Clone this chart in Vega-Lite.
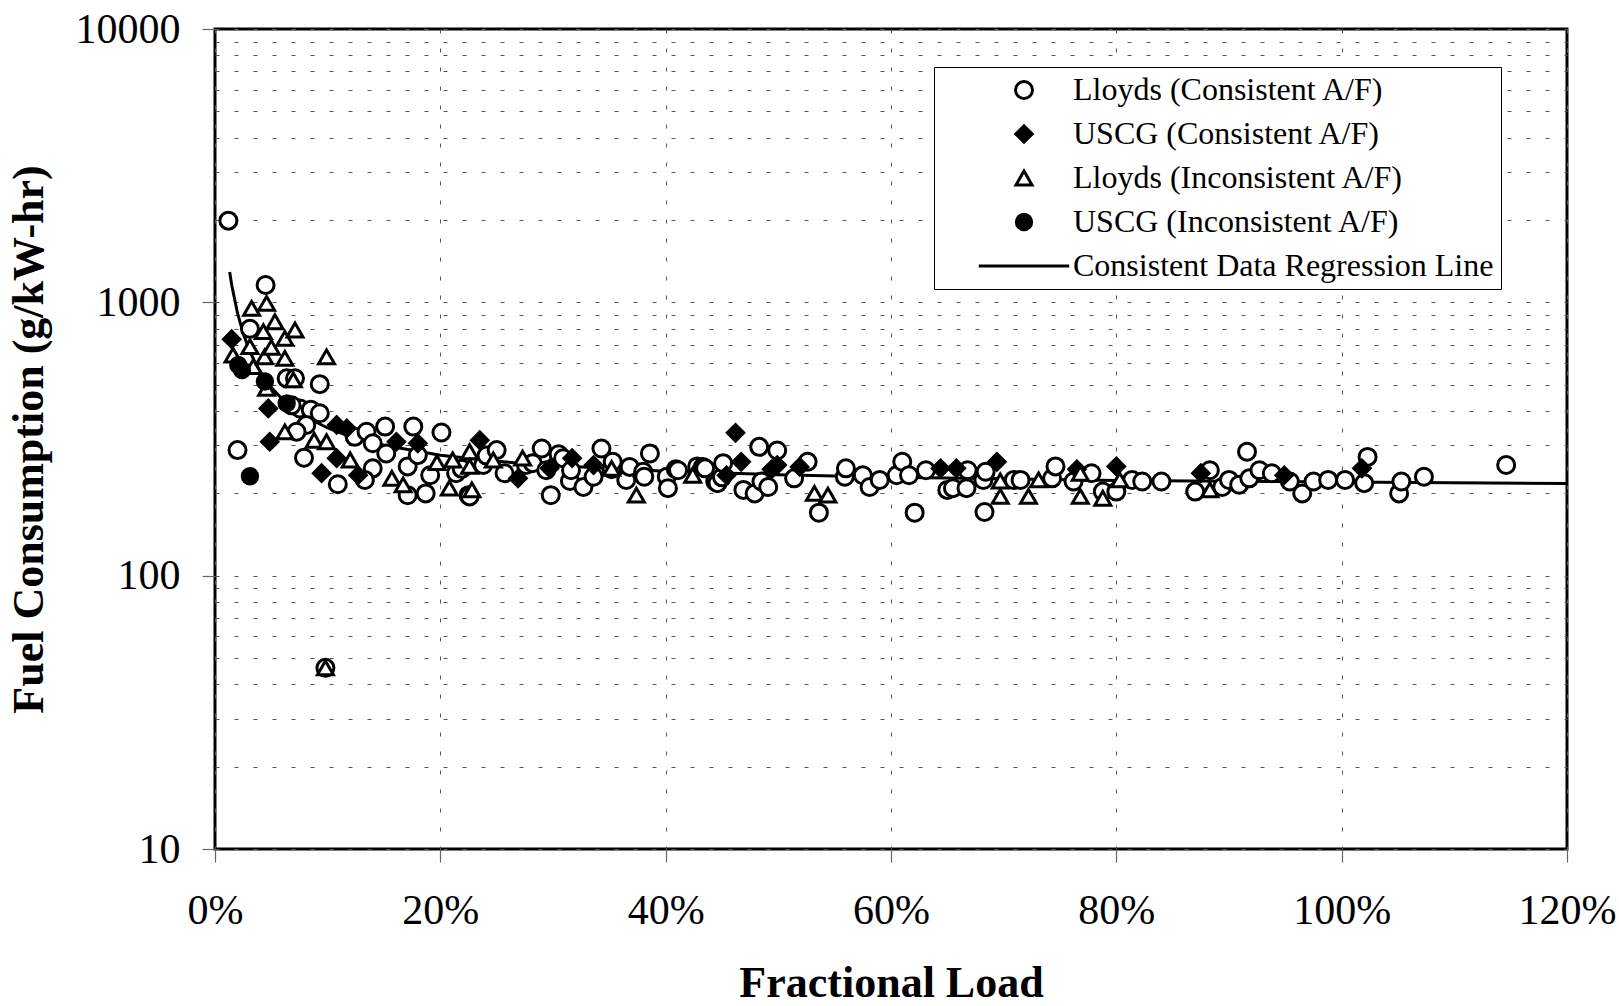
{
  "$schema": "https://vega.github.io/schema/vega-lite/v6.json",
  "width": 1352,
  "height": 820,
  "autosize": {"type": "none"},
  "padding": {"left": 215, "top": 29, "right": 52, "bottom": 157},
  "background": "white",
  "config": {
    "view": {"stroke": "black", "strokeWidth": 3},
    "font": "Liberation Serif",
    "axis": {
      "domain": false,
      "labelFont": "Liberation Serif",
      "labelFontSize": 42,
      "labelColor": "black",
      "titleFont": "Liberation Serif",
      "titleFontSize": 44,
      "titleFontWeight": "bold",
      "titleColor": "black",
      "tickColor": "#666666",
      "tickWidth": 1.2,
      "tickSize": 13,
      "gridColor": "#555555",
      "gridWidth": 1,
      "gridDash": [4, 15],
      "labelFlush": false,
      "labelOverlap": false,
      "labelBound": false
    }
  },
  "layer": [
    {
      "data": {
        "values": [
          {"x": 0.013, "y": 1292}, {"x": 0.015, "y": 1147}, {"x": 0.02, "y": 912},
          {"x": 0.025, "y": 770}, {"x": 0.03, "y": 676}, {"x": 0.035, "y": 609},
          {"x": 0.04, "y": 559}, {"x": 0.05, "y": 488}, {"x": 0.06, "y": 441},
          {"x": 0.07, "y": 407}, {"x": 0.08, "y": 382}, {"x": 0.1, "y": 347},
          {"x": 0.12, "y": 323}, {"x": 0.15, "y": 300}, {"x": 0.2, "y": 276},
          {"x": 0.25, "y": 262}, {"x": 0.3, "y": 253}, {"x": 0.4, "y": 241},
          {"x": 0.5, "y": 234}, {"x": 0.6, "y": 229}, {"x": 0.8, "y": 223},
          {"x": 1.0, "y": 220}, {"x": 1.2, "y": 217.5}
        ]
      },
      "mark": {"type": "line", "color": "black", "strokeWidth": 3},
      "encoding": {
        "x": {"field": "x", "type": "quantitative"},
        "y": {"field": "y", "type": "quantitative"}
      }
    },
    {
      "data": {
        "values": [
          {"x":0.0119,"y":1990,"s":"A"},{"x":0.020,"y":288,"s":"A"},{"x":0.031,"y":800,"s":"A"},{"x":0.0449,"y":1157,"s":"A"},
          {"x":0.0636,"y":527,"s":"A"},{"x":0.071,"y":527,"s":"A"},{"x":0.093,"y":502,"s":"A"},{"x":0.0754,"y":409,"s":"A"},
          {"x":0.068,"y":420,"s":"A"},{"x":0.085,"y":405,"s":"A"},{"x":0.093,"y":393,"s":"A"},{"x":0.081,"y":356,"s":"A"},
          {"x":0.0724,"y":336,"s":"A"},{"x":0.079,"y":270,"s":"A"},{"x":0.098,"y":46,"s":"A"},{"x":0.109,"y":216,"s":"A"},
          {"x":0.124,"y":322,"s":"A"},{"x":0.1345,"y":336,"s":"A"},{"x":0.140,"y":305,"s":"A"},{"x":0.152,"y":280,"s":"A"},
          {"x":0.151,"y":351,"s":"A"},{"x":0.176,"y":351,"s":"A"},{"x":0.201,"y":334,"s":"A"},{"x":0.140,"y":247,"s":"A"},
          {"x":0.133,"y":224,"s":"A"},{"x":0.171,"y":197,"s":"A"},{"x":0.187,"y":200,"s":"A"},{"x":0.171,"y":251,"s":"A"},
          {"x":0.180,"y":276,"s":"A"},{"x":0.191,"y":233,"s":"A"},{"x":0.225,"y":197,"s":"A"},{"x":0.214,"y":237,"s":"A"},
          {"x":0.219,"y":246,"s":"A"},{"x":0.226,"y":195,"s":"A"},{"x":0.238,"y":254,"s":"A"},{"x":0.241,"y":275,"s":"A"},
          {"x":0.250,"y":288,"s":"A"},{"x":0.257,"y":237,"s":"A"},{"x":0.276,"y":254,"s":"A"},{"x":0.282,"y":258,"s":"A"},
          {"x":0.290,"y":292,"s":"A"},{"x":0.294,"y":243,"s":"A"},{"x":0.298,"y":197,"s":"A"},{"x":0.305,"y":278,"s":"A"},
          {"x":0.309,"y":269,"s":"A"},{"x":0.315,"y":222,"s":"A"},{"x":0.316,"y":243,"s":"A"},{"x":0.327,"y":211,"s":"A"},
          {"x":0.336,"y":230,"s":"A"},{"x":0.343,"y":292,"s":"A"},{"x":0.352,"y":245,"s":"A"},{"x":0.353,"y":261,"s":"A"},
          {"x":0.365,"y":224,"s":"A"},{"x":0.368,"y":250,"s":"A"},{"x":0.380,"y":240,"s":"A"},{"x":0.381,"y":230,"s":"A"},
          {"x":0.386,"y":280,"s":"A"},{"x":0.401,"y":230,"s":"A"},{"x":0.402,"y":209,"s":"A"},{"x":0.409,"y":245,"s":"A"},
          {"x":0.411,"y":243,"s":"A"},{"x":0.428,"y":251,"s":"A"},{"x":0.433,"y":250,"s":"A"},{"x":0.435,"y":247,"s":"A"},
          {"x":0.444,"y":221,"s":"A"},{"x":0.446,"y":218,"s":"A"},{"x":0.450,"y":229,"s":"A"},{"x":0.451,"y":258,"s":"A"},
          {"x":0.469,"y":206,"s":"A"},{"x":0.479,"y":200,"s":"A"},{"x":0.483,"y":296,"s":"A"},{"x":0.485,"y":221,"s":"A"},
          {"x":0.491,"y":211,"s":"A"},{"x":0.499,"y":287,"s":"A"},{"x":0.514,"y":227,"s":"A"},{"x":0.526,"y":261,"s":"A"},
          {"x":0.536,"y":170,"s":"A"},{"x":0.559,"y":230,"s":"A"},{"x":0.560,"y":247,"s":"A"},{"x":0.575,"y":233,"s":"A"},
          {"x":0.581,"y":211,"s":"A"},{"x":0.590,"y":224,"s":"A"},{"x":0.605,"y":233,"s":"A"},{"x":0.610,"y":261,"s":"A"},
          {"x":0.616,"y":233,"s":"A"},{"x":0.621,"y":170,"s":"A"},{"x":0.631,"y":243,"s":"A"},{"x":0.650,"y":206,"s":"A"},
          {"x":0.655,"y":209,"s":"A"},{"x":0.667,"y":209,"s":"A"},{"x":0.668,"y":243,"s":"A"},{"x":0.682,"y":224,"s":"A"},
          {"x":0.683,"y":171,"s":"A"},{"x":0.684,"y":240,"s":"A"},{"x":0.709,"y":224,"s":"A"},{"x":0.715,"y":224,"s":"A"},
          {"x":0.743,"y":227,"s":"A"},{"x":0.746,"y":251,"s":"A"},{"x":0.762,"y":221,"s":"A"},{"x":0.778,"y":237,"s":"A"},
          {"x":0.788,"y":203,"s":"A"},{"x":0.800,"y":203,"s":"A"},{"x":0.814,"y":224,"s":"A"},{"x":0.823,"y":221,"s":"A"},
          {"x":0.840,"y":221,"s":"A"},{"x":0.870,"y":203,"s":"A"},{"x":0.883,"y":243,"s":"A"},{"x":0.894,"y":211,"s":"A"},
          {"x":0.900,"y":224,"s":"A"},{"x":0.909,"y":215,"s":"A"},{"x":0.916,"y":284,"s":"A"},{"x":0.918,"y":227,"s":"A"},
          {"x":0.927,"y":243,"s":"A"},{"x":0.938,"y":237,"s":"A"},{"x":0.954,"y":221,"s":"A"},{"x":0.965,"y":200,"s":"A"},
          {"x":0.975,"y":221,"s":"A"},{"x":0.988,"y":224,"s":"A"},{"x":1.003,"y":224,"s":"A"},{"x":1.020,"y":218,"s":"A"},
          {"x":1.023,"y":272,"s":"A"},{"x":1.051,"y":200,"s":"A"},{"x":1.053,"y":221,"s":"A"},{"x":1.073,"y":230,"s":"A"},
          {"x":1.146,"y":254,"s":"A"},
          {"x":0.0148,"y":733,"s":"B"},{"x":0.0473,"y":409,"s":"B"},{"x":0.0486,"y":309,"s":"B"},{"x":0.0946,"y":237,"s":"B"},
          {"x":0.108,"y":356,"s":"B"},{"x":0.117,"y":346,"s":"B"},{"x":0.108,"y":269,"s":"B"},{"x":0.127,"y":233,"s":"B"},
          {"x":0.161,"y":309,"s":"B"},{"x":0.180,"y":305,"s":"B"},{"x":0.235,"y":313,"s":"B"},{"x":0.269,"y":227,"s":"B"},
          {"x":0.297,"y":247,"s":"B"},{"x":0.317,"y":269,"s":"B"},{"x":0.336,"y":254,"s":"B"},{"x":0.454,"y":233,"s":"B"},
          {"x":0.462,"y":333,"s":"B"},{"x":0.467,"y":261,"s":"B"},{"x":0.494,"y":245,"s":"B"},{"x":0.499,"y":254,"s":"B"},
          {"x":0.519,"y":250,"s":"B"},{"x":0.644,"y":247,"s":"B"},{"x":0.658,"y":247,"s":"B"},{"x":0.694,"y":261,"s":"B"},
          {"x":0.765,"y":245,"s":"B"},{"x":0.800,"y":251,"s":"B"},{"x":0.875,"y":237,"s":"B"},{"x":0.949,"y":233,"s":"B"},
          {"x":1.018,"y":247,"s":"B"},
          {"x":0.016,"y":641,"s":"C"},{"x":0.031,"y":689,"s":"C"},{"x":0.0325,"y":950,"s":"C"},{"x":0.034,"y":582,"s":"C"},
          {"x":0.0429,"y":781,"s":"C"},{"x":0.044,"y":632,"s":"C"},{"x":0.0458,"y":991,"s":"C"},{"x":0.0458,"y":485,"s":"C"},
          {"x":0.050,"y":684,"s":"C"},{"x":0.0532,"y":849,"s":"C"},{"x":0.062,"y":738,"s":"C"},{"x":0.062,"y":624,"s":"C"},
          {"x":0.062,"y":336,"s":"C"},{"x":0.0695,"y":520,"s":"C"},{"x":0.071,"y":792,"s":"C"},{"x":0.088,"y":313,"s":"C"},
          {"x":0.098,"y":46,"s":"C"},{"x":0.099,"y":632,"s":"C"},{"x":0.099,"y":309,"s":"C"},{"x":0.120,"y":265,"s":"C"},
          {"x":0.157,"y":227,"s":"C"},{"x":0.167,"y":215,"s":"C"},{"x":0.197,"y":259,"s":"C"},{"x":0.208,"y":209,"s":"C"},
          {"x":0.211,"y":265,"s":"C"},{"x":0.226,"y":284,"s":"C"},{"x":0.226,"y":251,"s":"C"},{"x":0.228,"y":206,"s":"C"},
          {"x":0.247,"y":265,"s":"C"},{"x":0.273,"y":269,"s":"C"},{"x":0.352,"y":247,"s":"C"},{"x":0.374,"y":197,"s":"C"},
          {"x":0.424,"y":233,"s":"C"},{"x":0.532,"y":200,"s":"C"},{"x":0.544,"y":197,"s":"C"},{"x":0.697,"y":222,"s":"C"},
          {"x":0.697,"y":195,"s":"C"},{"x":0.722,"y":195,"s":"C"},{"x":0.731,"y":224,"s":"C"},{"x":0.768,"y":237,"s":"C"},
          {"x":0.768,"y":195,"s":"C"},{"x":0.788,"y":192,"s":"C"},{"x":0.803,"y":224,"s":"C"},{"x":0.883,"y":206,"s":"C"},
          {"x":0.0207,"y":590,"s":"D"},{"x":0.024,"y":565,"s":"D"},{"x":0.031,"y":231,"s":"D"},{"x":0.0443,"y":513,"s":"D"},
          {"x":0.0636,"y":427,"s":"D"}
        ]
      },
      "mark": {"type": "point", "stroke": "black", "strokeWidth": 3, "opacity": 1},
      "encoding": {
        "x": {
          "field": "x", "type": "quantitative",
          "scale": {"domain": [0, 1.2], "nice": false, "zero": false},
          "axis": {
            "values": [0, 0.2, 0.4, 0.6, 0.8, 1.0, 1.2],
            "format": ".0%",
            "title": "Fractional Load",
            "labelPadding": 28,
            "titlePadding": 30,
            "grid": true,
            "gridDash": [4, 15]
          }
        },
        "y": {
          "field": "y", "type": "quantitative",
          "scale": {"type": "log", "domain": [10, 10000], "nice": false},
          "axis": {
            "values": [10,20,30,40,50,60,70,80,90,100,200,300,400,500,600,700,800,900,1000,2000,3000,4000,5000,6000,7000,8000,9000,10000],
            "labelExpr": "indexof([10,100,1000,10000], datum.value) >= 0 ? format(datum.value, 'd') : ''",
            "tickOpacity": {"condition": {"test": "indexof([10,100,1000,10000], datum.value) >= 0", "value": 1}, "value": 0},
            "title": "Fuel Consumption (g/kW-hr)",
            "labelPadding": 22,
            "titlePadding": 24,
            "grid": true
          }
        },
        "shape": {
          "field": "s", "type": "nominal",
          "scale": {"domain": ["A", "B", "C", "D", "R"], "range": ["circle", "diamond", "triangle-up", "circle", "M-6.1,0L6.1,0"]},
          "legend": {
            "orient": "none",
            "legendX": 719,
            "legendY": 38,
            "title": null,
            "labelExpr": "({'A':'Lloyds (Consistent A/F)','B':'USCG (Consistent A/F)','C':'Lloyds (Inconsistent A/F)','D':'USCG (Inconsistent A/F)','R':'Consistent Data Regression Line'})[datum.value]",
            "labelFont": "Liberation Serif",
            "labelFontSize": 32,
            "labelColor": "black",
            "labelLimit": 800,
            "strokeColor": "black",
            "fillColor": "white",
            "padding": 7,
            "rowPadding": 12,
            "symbolOffset": 67,
            "labelOffset": 33,
            "symbolStrokeWidth": 3,
            "symbolStrokeColor": "black"
          }
        },
        "fill": {
          "field": "s", "type": "nominal",
          "scale": {"domain": ["A", "B", "C", "D", "R"], "range": ["white", "black", "white", "black", "black"]}
        },
        "size": {
          "field": "s", "type": "nominal",
          "scale": {"domain": ["A", "B", "C", "D", "R"], "range": [289, 220, 300, 260, 160]}
        }
      }
    }
  ]
}
